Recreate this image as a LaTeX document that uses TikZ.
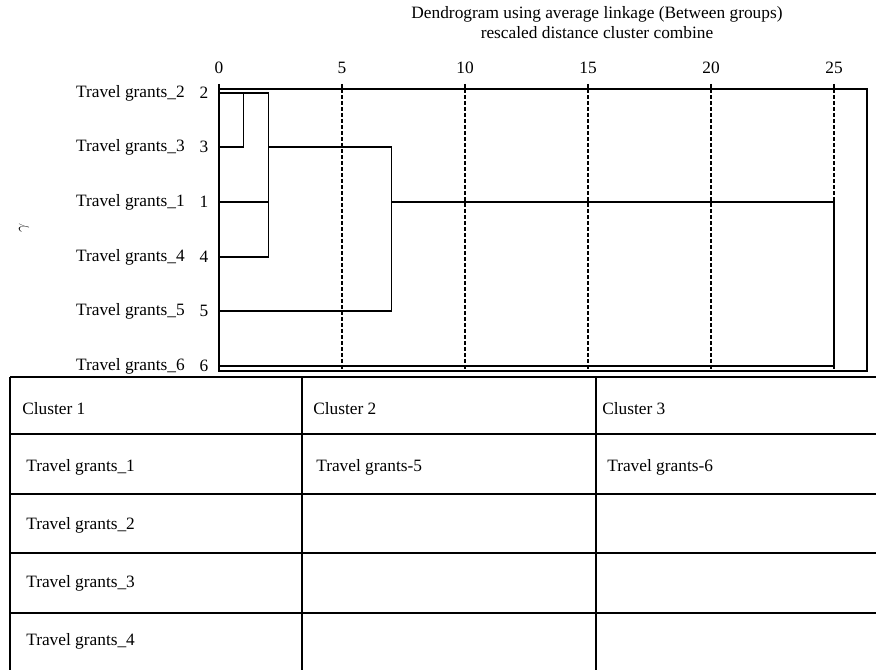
\documentclass[tikz,border=0pt]{standalone}
\usepackage{fontspec}
\setmainfont{Liberation Serif}
\usetikzlibrary{positioning,calc}
\newcommand{\dx}[1]{219+24.6*#1}

\begin{document}
\begin{tikzpicture}[x=0.75pt,y=-0.75pt,
  txt/.style={font=\fontsize{13}{15}\selectfont, inner sep=0pt},
  rowlbl/.style={txt, anchor=east},
  cell/.style={txt, anchor=west},
  link/.style={line width=0.9pt},
  grid/.style={line width=0.8pt, dash pattern=on 3pt off 1.5pt},
  rule/.style={line width=1pt}]
\useasboundingbox (0,0) rectangle (876,670);
% titles
\node[txt] (title) at (597,14) {Dendrogram using average linkage (Between groups)};
\node[txt] (subtitle) at (597,33) {rescaled distance cluster combine};
% axis
\foreach \v in {0,5,10,15,20,25}
  \node[txt] (ax\v) at ({\dx{\v}},68) {\v};
\draw[link] (219,89) rectangle (867,371);
\draw[link] ({\dx{0}},84) -- ({\dx{0}},89);
\foreach \v in {5,10,15,20,25} {
  \draw[link] ({\dx{\v}},84) -- ({\dx{\v}},89);
  \draw[grid] ({\dx{\v}},89) -- ({\dx{\v}},371);
}
% rows
\foreach \id/\y in {2/93,3/147,1/202,4/257,5/311,6/366} {
  \node[rowlbl] (lbl\id) at (185,\y) {Travel grants\_\id};
  \node[txt] (num\id) at (204,\y) {\id};
  \coordinate (r\id) at (219,\y);
}
\node[txt, rotate=90] (gam) at (24,228) {\large$\gamma$};
% dendrogram
\coordinate (j1) at ({\dx{1}},93);
\coordinate (j2) at ({\dx{2}},93);
\coordinate (j7) at ({\dx{7}},147);
\coordinate (j25) at ({\dx{25}},202);
\draw[link] (r2) -- (j2) -- (j2 |- r4) -- (r4);
\draw[link] (j1) |- (r3);
\draw[link] (r1) -- (j2 |- r1);
\draw[link] (j2 |- r3) -- (j7) |- (r5);
\draw[link] (j7 |- r1) -- (j25) |- (r6);
\draw[link] (r2) -- (r4);
% table
\draw[rule] (10,377) -- (876,377);
\foreach \y in {434,494,553,613}
  \draw[rule] (10,\y) -- (876,\y);
\foreach \x in {10,302,596}
  \draw[rule] (\x,377) -- (\x,670);
\node[cell] (c1) at (22,409) {Cluster 1};
\node[cell] (c2) at (313,409) {Cluster 2};
\node[cell] (c3) at (602,409) {Cluster 3};
\node[cell] (m1) at (26,467) {Travel grants\_1};
\node[cell] (m5) at (316,467) {Travel grants-5};
\node[cell] (m6) at (607,467) {Travel grants-6};
\node[cell] (m2) at (26,525) {Travel grants\_2};
\node[cell] (m3) at (26,583) {Travel grants\_3};
\node[cell] (m4) at (26,641) {Travel grants\_4};
\end{tikzpicture}
\end{document}
